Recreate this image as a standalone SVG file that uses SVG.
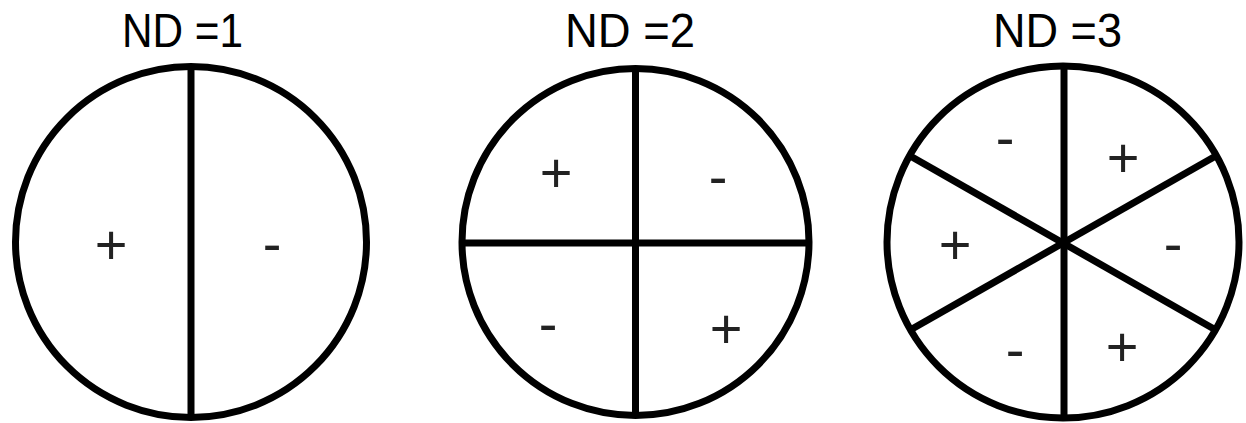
<svg xmlns="http://www.w3.org/2000/svg" width="1246" height="423" viewBox="0 0 1246 423">
<style>
.ring{fill:none;stroke:#000;stroke-width:7}
.div{stroke:#000;stroke-width:7;stroke-linecap:butt}
.title{font-family:"Liberation Sans",Arial,sans-serif;font-size:48px;fill:#000}
.sign{font-family:"Liberation Sans",Arial,sans-serif;font-size:56px;fill:#222;text-anchor:middle}
</style>
<rect width="1246" height="423" fill="#fff"/>
<g id="nd1">
<text class="title" x="122" y="47" textLength="121" lengthAdjust="spacingAndGlyphs">ND =1</text>
<circle class="ring" cx="191" cy="242" r="175.5"/>
<text class="sign" x="111" y="264">+</text>
<text class="sign" x="272" y="263">-</text>
</g>
<g id="nd2">
<text class="title" x="565" y="47" textLength="130" lengthAdjust="spacingAndGlyphs">ND =2</text>
<circle class="ring" cx="635.5" cy="242" r="173.5"/>
<text class="sign" x="556" y="192">+</text>
<text class="sign" x="718" y="196">-</text>
<text class="sign" x="548" y="343">-</text>
<text class="sign" x="726" y="348">+</text>
</g>
<g id="nd3">
<text class="title" x="993" y="47" textLength="129" lengthAdjust="spacingAndGlyphs">ND =3</text>
<circle class="ring" cx="1063" cy="242" r="176"/>
<text class="sign" x="1005" y="157">-</text>
<text class="sign" x="1123" y="177">+</text>
<text class="sign" x="955" y="264">+</text>
<text class="sign" x="1173" y="263">-</text>
<text class="sign" x="1015" y="369">-</text>
<text class="sign" x="1122" y="366">+</text>
</g>
<g id="connectors">
<line class="div" x1="191" y1="66" x2="191" y2="418"/>
<line class="div" x1="635.5" y1="68" x2="635.5" y2="416"/>
<line class="div" x1="461" y1="243" x2="810" y2="243"/>
<line class="div" x1="1064" y1="66" x2="1064" y2="418"/>
<line class="div" x1="912" y1="157" x2="1214" y2="329"/>
<line class="div" x1="912" y1="329" x2="1214" y2="157"/>
</g>
</svg>
